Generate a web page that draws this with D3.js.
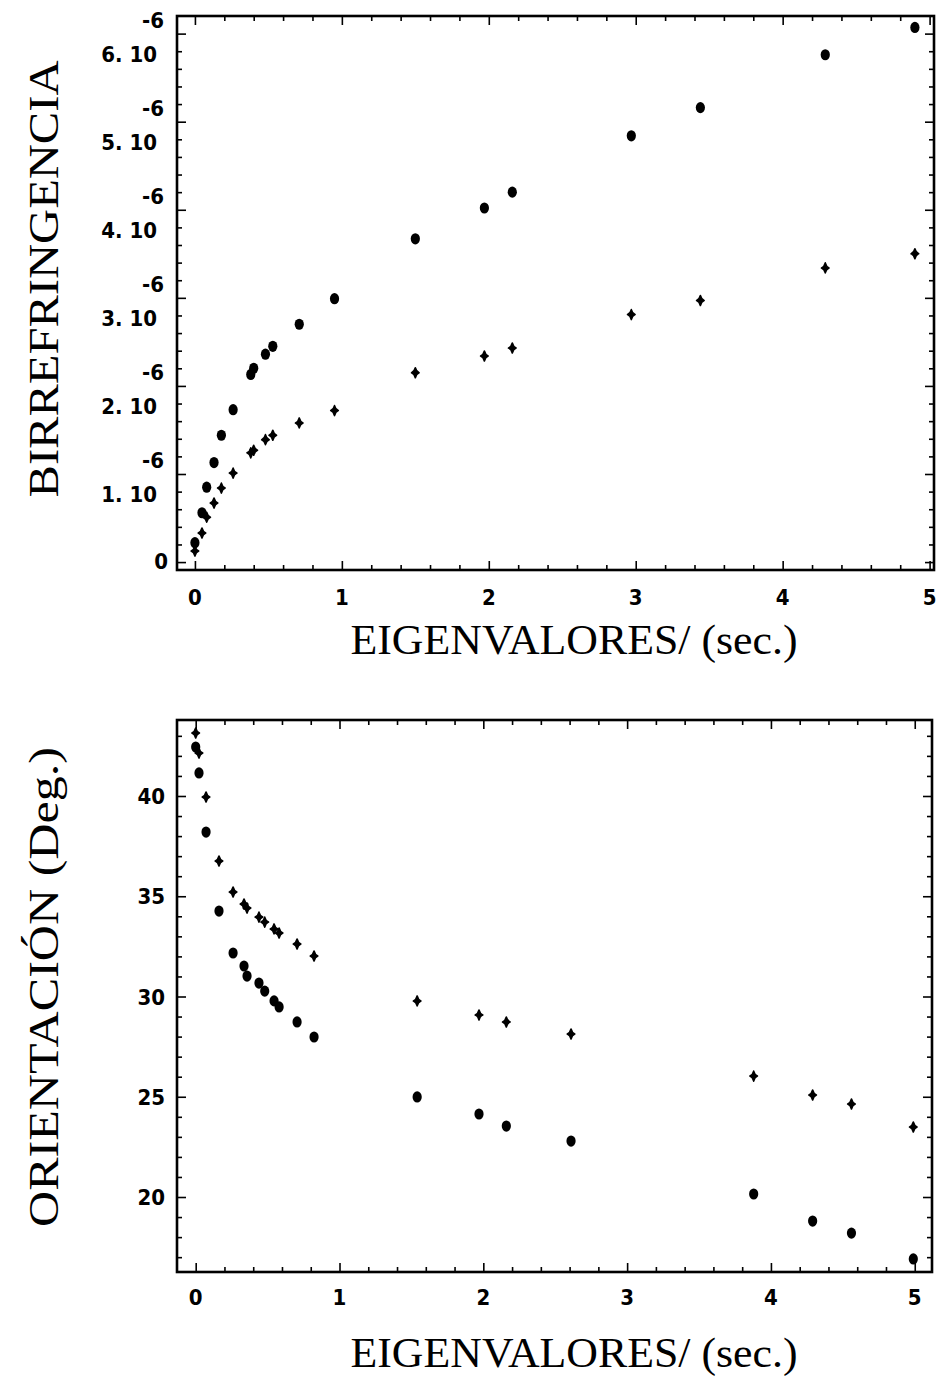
<!DOCTYPE html>
<html><head><meta charset="utf-8">
<script src="https://cdn.jsdelivr.net/npm/d3@7"></script>
<style>
body{margin:0;background:#fff}
.tk{font-family:"Liberation Sans Narrow","DejaVu Sans Condensed","Liberation Sans",sans-serif;font-weight:bold;font-size:22px;fill:#000}
.ttl{font-family:"Liberation Serif","DejaVu Serif",serif;font-size:42px;fill:#000}
</style></head><body>
<svg id="c" width="940" height="1380"></svg>
<script>
// ---- Top chart: Birrefringencia vs eigenvalores ----
const topEig = [0.0, 0.048, 0.08, 0.13, 0.18, 0.26, 0.38, 0.40, 0.48, 0.53, 0.71, 0.95, 1.50, 1.97, 2.16, 2.97, 3.44, 4.29, 4.90];
const topUpper = [0.22, 0.56, 0.85, 1.13, 1.44, 1.73, 2.13, 2.20, 2.36, 2.45, 2.70, 2.99, 3.67, 4.02, 4.20, 4.84, 5.16, 5.76, 6.07]; // x 1e-6
const topLower = [0.125, 0.33, 0.51, 0.67, 0.84, 1.01, 1.24, 1.27, 1.39, 1.44, 1.58, 1.72, 2.15, 2.34, 2.43, 2.81, 2.97, 3.34, 3.50]; // x 1e-6
const topXTicks = [0, 1, 2, 3, 4, 5];
const topYTicks = [0, 1, 2, 3, 4, 5, 6]; // x 1e-6
const topXTitle = "EIGENVALORES/ (sec.)";
const topYTitle = "BIRREFRINGENCIA";

// ---- Bottom chart: Orientación vs eigenvalores ----
const botEig = [0.0, 0.023, 0.072, 0.162, 0.26, 0.336, 0.357, 0.44, 0.48, 0.545, 0.58, 0.705, 0.823, 1.54, 1.97, 2.16, 2.61, 3.88, 4.29, 4.56, 4.99];
const botUpper = [43.14, 42.14, 39.95, 36.76, 35.21, 34.61, 34.41, 33.96, 33.71, 33.37, 33.17, 32.62, 32.02, 29.78, 29.08, 28.73, 28.13, 26.03, 25.09, 24.64, 23.49];
const botLower = [42.44, 41.15, 38.2, 34.26, 32.17, 31.52, 31.02, 30.67, 30.27, 29.78, 29.48, 28.73, 27.98, 24.99, 24.14, 23.54, 22.79, 20.15, 18.80, 18.20, 16.91];
const botXTicks = [0, 1, 2, 3, 4, 5];
const botYTicks = [20, 25, 30, 35, 40];
const botXTitle = "EIGENVALORES/ (sec.)";
const botYTitle = "ORIENTACIÓN (Deg.)";

const svg = d3.select("#c");

function bigDot(g, pts) {
  g.selectAll("ellipse.big").data(pts).join("ellipse").attr("class","big")
    .attr("cx", d => d[0]).attr("cy", d => d[1]).attr("rx", 4.6).attr("ry", 5.6).attr("fill", "#000");
}
function smallDot(g, pts) {
  g.selectAll("path.sm").data(pts).join("path").attr("class","sm")
    .attr("d", d => `M${d[0]},${d[1]-5} Q${d[0]+1},${d[1]-1} ${d[0]+3.8},${d[1]} Q${d[0]+1},${d[1]+1} ${d[0]},${d[1]+5} Q${d[0]-1},${d[1]+1} ${d[0]-3.8},${d[1]} Q${d[0]-1},${d[1]-1} ${d[0]},${d[1]-5}Z`)
    .attr("fill", "#000").attr("stroke","#000").attr("stroke-width",1.6).attr("stroke-linejoin","round");
}

function drawChart(cfg) {
  const g = svg.append("g");
  const x = cfg.x, y = cfg.y;
  const [x0, x1] = x.range(), [y0, y1] = y.range();
  const mk = (axisFn, scale, vals, size, tr) => {
    const a = g.append("g").attr("transform", tr)
      .call(axisFn(scale).tickValues(vals).tickSize(-size).tickFormat(""));
    a.select(".domain").remove();
    a.selectAll("line").attr("stroke", "#000").attr("stroke-width", 1.6);
  };
  mk(d3.axisBottom, x, cfg.xMinor, 5, `translate(0,${y0})`);
  mk(d3.axisTop, x, cfg.xMinor, 5, `translate(0,${y1})`);
  mk(d3.axisLeft, y, cfg.yMinor, 5, `translate(${x0},0)`);
  mk(d3.axisRight, y, cfg.yMinor, 5, `translate(${x1},0)`);
  mk(d3.axisBottom, x, cfg.xMajor, 9, `translate(0,${y0})`);
  mk(d3.axisTop, x, cfg.xMajor, 9, `translate(0,${y1})`);
  mk(d3.axisLeft, y, cfg.yMajor, 9, `translate(${x0},0)`);
  mk(d3.axisRight, y, cfg.yMajor, 9, `translate(${x1},0)`);
  g.append("rect").attr("x", x0).attr("y", y1).attr("width", x1 - x0).attr("height", y0 - y1)
    .attr("fill", "none").attr("stroke", "#000").attr("stroke-width", 2.6);
  g.selectAll("text.xl").data(cfg.xMajor).join("text").attr("class", "tk xl")
    .attr("x", d => x(d)).attr("y", cfg.xLabelY).attr("text-anchor", "middle").text(d => d);
  g.append("text").attr("class", "ttl").attr("x", cfg.xTitleX).attr("y", cfg.xTitleY)
    .attr("text-anchor", "middle").attr("textLength", cfg.xTitleLen).attr("lengthAdjust", "spacingAndGlyphs")
    .text(cfg.xTitle);
  g.append("text").attr("class", "ttl").attr("transform", `translate(${cfg.yTitleX},${cfg.yTitleY}) rotate(-90)`)
    .attr("text-anchor", "middle").attr("textLength", cfg.yTitleLen).attr("lengthAdjust", "spacingAndGlyphs")
    .text(cfg.yTitle);
  return g;
}

// ---------- Top chart ----------
const xT = d3.scaleLinear().domain([-0.122, 5.03]).range([177, 934]);
const yT = d3.scaleLinear().domain([-0.09, 6.2]).range([570, 16]);
const gT = drawChart({
  x: xT, y: yT,
  xMajor: topXTicks, xMinor: d3.range(0, 5.01, 0.2).filter(v => Math.abs(v - Math.round(v)) > 1e-6),
  yMajor: topYTicks, yMinor: d3.range(0, 6.2, 0.2).filter(v => Math.abs(v - Math.round(v)) > 1e-6),
  xLabelY: 605, xTitle: topXTitle, xTitleX: 574, xTitleY: 654, xTitleLen: 447,
  yTitle: topYTitle, yTitleX: 58, yTitleY: 279, yTitleLen: 437
});
topYTicks.forEach(k => {
  const Y = yT(k);
  if (k === 0) {
    gT.append("text").attr("class", "tk").attr("x", 168).attr("y", Y + 7).attr("text-anchor", "end").text("0");
  } else {
    gT.append("text").attr("class", "tk").attr("x", 164).attr("y", Y - 6).attr("text-anchor", "end").text("-6");
    gT.append("text").attr("class", "tk").attr("x", 157).attr("y", Y + 28).attr("text-anchor", "end")
      .attr("xml:space", "preserve").text(k + ". 10");
  }
});
bigDot(gT.append("g"), topEig.map((e, i) => [xT(e), yT(topUpper[i])]));
smallDot(gT.append("g"), topEig.map((e, i) => [xT(e), yT(topLower[i])]));

// ---------- Bottom chart ----------
const xB = d3.scaleLinear().domain([-0.13, 5.12]).range([177, 932]);
const yB = d3.scaleLinear().domain([16.26, 43.79]).range([1272, 720]);
const gB = drawChart({
  x: xB, y: yB,
  xMajor: botXTicks, xMinor: d3.range(0, 5.1, 0.2).filter(v => Math.abs(v - Math.round(v)) > 1e-6),
  yMajor: botYTicks, yMinor: d3.range(17, 44, 1).filter(v => v % 5 !== 0),
  xLabelY: 1305, xTitle: botXTitle, xTitleX: 574, xTitleY: 1367, xTitleLen: 447,
  yTitle: botYTitle, yTitleX: 58, yTitleY: 987, yTitleLen: 480
});
gB.selectAll("text.yl").data(botYTicks).join("text").attr("class", "tk yl")
  .attr("x", 165).attr("y", d => yB(d) + 8).attr("text-anchor", "end").text(d => d);
smallDot(gB.append("g"), botEig.map((e, i) => [xB(e), yB(botUpper[i])]));
bigDot(gB.append("g"), botEig.map((e, i) => [xB(e), yB(botLower[i])]));
</script>
</body></html>
